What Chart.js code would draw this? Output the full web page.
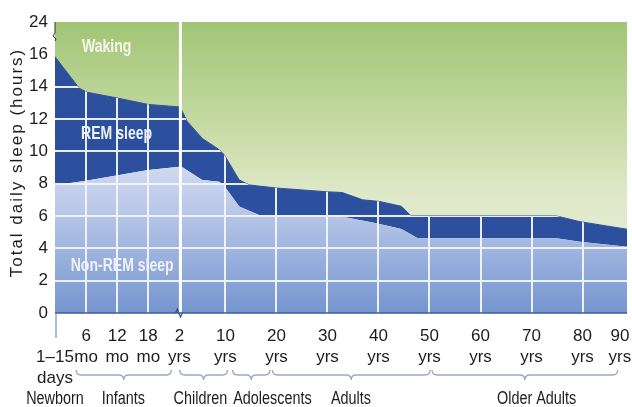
<!DOCTYPE html>
<html>
<head>
<meta charset="utf-8">
<script src="https://cdn.jsdelivr.net/npm/chart.js@4.4.1/dist/chart.umd.min.js"></script>
<style>
  html, body { margin: 0; padding: 0; background: #fff; }
  #wrap { width: 632px; height: 407px; }
</style>
</head>
<body>
<div id="wrap"><canvas id="sleepChart" width="632" height="407"></canvas></div>
<script>
// ---- data ----
const totalAges  = [0, 0.39, 0.52, 1.0, 1.5, 2.0, 2.15, 3.36, 5.97, 8.93, 9.8, 12.7, 14.7, 20, 29.8, 32.9, 36.9, 40.2, 44.5, 46.4, 74.9, 79.5, 90];
const totalSleep = [15.85, 13.9, 13.65, 13.3, 12.9, 12.75, 12.72, 11.85, 10.8, 10.1, 9.78, 8.23, 7.92, 7.73, 7.5, 7.45, 7.0, 6.9, 6.6, 6.0, 6.0, 5.65, 5.18];
const nremAges   = [0, 0.52, 1.5, 2.0, 2.26, 5.97, 8.93, 9.8, 12.7, 16.6, 20, 29.8, 33.7, 39.6, 44.5, 47.7, 74.9, 79.5, 90];
const nremSleep  = [7.9, 8.2, 8.85, 9.05, 9.08, 8.23, 8.12, 7.86, 6.58, 6.06, 5.96, 5.96, 5.9, 5.55, 5.2, 4.62, 4.62, 4.41, 4.1];

const xTickAges   = [0, 0.5, 1, 1.5, 2, 10, 20, 30, 40, 50, 60, 70, 80, 90];
const xTickLabels = [["", "1–15", "days"], ["6", "mo"], ["12", "mo"], ["18", "mo"], ["2", "yrs"],
  ["10", "yrs"], ["20", "yrs"], ["30", "yrs"], ["40", "yrs"], ["50", "yrs"], ["60", "yrs"],
  ["70", "yrs"], ["80", "yrs"], ["90", "yrs"]];
const yTickHours  = [0, 2, 4, 6, 8, 10, 12, 14, 16, 24];

const groupNames    = ["Newborn", "Infants", "Children", "Adolescents", "Adults", "Older Adults"];
const groupStart    = [null, 0.34, 2.05, 11.4, 19.2, 50.5];
const groupEnd      = [null, 1.87, 10.4, 18.7, 50.1, 87.9];
const groupLabelAge = [0, 1.1, 5.65, 19.2, 34.6, 71];

const regionNames = ["Waking", "REM sleep", "Non-REM sleep"];
const regionAges  = [0.83, 0.99, 1.08];
const regionHours = [17.7, 11.07, 2.88];

// ---- broken axes: ages are squeezed piecewise, hours above 16 are compressed ----
const axisAges  = [0, 2, 10, 80, 90];
const axisUnits = [0, 4, 5.48, 16.96, 18.39];

function ageToAxis(age) {
    for (let i = 1; i < axisAges.length; i++) {
        if (age <= axisAges[i]) {
            const t = (age - axisAges[i - 1]) / (axisAges[i] - axisAges[i - 1]);
            return axisUnits[i - 1] + t * (axisUnits[i] - axisUnits[i - 1]);
        }
    }
    return axisUnits[axisUnits.length - 1];
}

function hoursToAxis(h) {
    return h <= 16 ? h : 16 + (h - 16) / 4;
}

const nremPoints  = nremAges.map((a, i) => ({ x: ageToAxis(a), y: hoursToAxis(nremSleep[i]) }));
const totalPoints = totalAges.map((a, i) => ({ x: ageToAxis(a), y: hoursToAxis(totalSleep[i]) }));

const FONT = "'Liberation Sans', Arial, sans-serif";
const NARROW = 0.8; // the original uses a condensed face

function vGradient(chart, stops) {
    const a = chart.chartArea;
    if (!a) return stops[0][1];
    const g = chart.ctx.createLinearGradient(0, a.top, 0, a.bottom);
    stops.forEach(s => g.addColorStop(s[0], s[1]));
    return g;
}

function narrowText(ctx, text, x, y, sx) {
    ctx.save();
    ctx.translate(x, y);
    ctx.scale(sx || NARROW, 1);
    ctx.fillText(text, 0, 0);
    ctx.restore();
}

function drawBrace(ctx, x1, x2, y, h) {
    const xm = (x1 + x2) / 2;
    ctx.beginPath();
    ctx.moveTo(x1, y - h);
    ctx.quadraticCurveTo(x1, y, x1 + h, y);
    ctx.lineTo(xm - h, y);
    ctx.quadraticCurveTo(xm, y, xm, y + h);
    ctx.quadraticCurveTo(xm, y, xm + h, y);
    ctx.lineTo(x2 - h, y);
    ctx.quadraticCurveTo(x2, y, x2, y - h);
    ctx.stroke();
}

const decorPlugin = {
    id: 'decor',
    afterDatasetsDraw(chart) {
        const { ctx, chartArea: a, scales: { x, y } } = chart;
        const top = chart.getDatasetMeta(1).data;

        // white grid only inside the sleep area
        ctx.save();
        ctx.beginPath();
        ctx.moveTo(a.left, a.bottom);
        top.forEach(p => ctx.lineTo(p.x, p.y));
        ctx.lineTo(a.right, a.bottom);
        ctx.closePath();
        ctx.clip();
        ctx.strokeStyle = 'rgba(242,245,252,0.95)';
        ctx.lineWidth = 2;
        ctx.beginPath();
        xTickAges.forEach(age => {
            if (age === 0 || age === 2 || age === 90) return;
            const px = Math.round(x.getPixelForValue(ageToAxis(age)));
            ctx.moveTo(px, a.top);
            ctx.lineTo(px, a.bottom);
        });
        yTickHours.forEach(h => {
            if (h === 0 || h > 14) return;
            const py = Math.round(y.getPixelForValue(hoursToAxis(h)));
            ctx.moveTo(a.left, py);
            ctx.lineTo(a.right, py);
        });
        ctx.stroke();
        ctx.restore();

        // break line at 2 yrs
        const bx = x.getPixelForValue(ageToAxis(2)) + 1;
        ctx.save();
        ctx.strokeStyle = '#ffffff';
        ctx.lineWidth = 3;
        ctx.beginPath();
        ctx.moveTo(bx, a.top);
        ctx.lineTo(bx, a.bottom);
        ctx.stroke();

        // region labels
        ctx.font = "bold 18px " + FONT;
        ctx.textAlign = 'center';
        ctx.textBaseline = 'middle';
        regionNames.forEach((name, i) => {
            ctx.fillStyle = i === 0 ? '#f4f8ec' : '#eef2fb';
            narrowText(ctx, name, x.getPixelForValue(ageToAxis(regionAges[i])), y.getPixelForValue(hoursToAxis(regionHours[i])), 0.78);
        });
        ctx.restore();
    },
    afterDraw(chart) {
        const { ctx, chartArea: a, scales: { x } } = chart;
        ctx.save();

        // bottom edge
        ctx.strokeStyle = '#3d5c9e';
        ctx.lineWidth = 1.5;
        ctx.beginPath();
        ctx.moveTo(a.left, a.bottom);
        ctx.lineTo(a.right, a.bottom);
        ctx.stroke();

        // x break mark
        const bx = x.getPixelForValue(ageToAxis(2));
        ctx.strokeStyle = '#33507f';
        ctx.lineWidth = 1.2;
        ctx.beginPath();
        ctx.moveTo(bx - 4, a.bottom);
        ctx.lineTo(bx - 2, a.bottom - 4);
        ctx.lineTo(bx + 1, a.bottom + 4);
        ctx.lineTo(bx + 3, a.bottom);
        ctx.stroke();

        // y break mark and short axis stub
        ctx.strokeStyle = '#333';
        ctx.lineWidth = 1;
        ctx.beginPath();
        ctx.moveTo(a.left, a.top);
        ctx.lineTo(a.left, a.top + 11);
        ctx.lineTo(a.left - 2, a.top + 14);
        ctx.lineTo(a.left + 1, a.top + 17);
        ctx.lineTo(a.left, a.top + 19);
        ctx.stroke();

        // newborn tick
        const nx = x.getPixelForValue(ageToAxis(0)) + 1;
        ctx.strokeStyle = '#a9bde2';
        ctx.lineWidth = 2;
        ctx.beginPath();
        ctx.moveTo(nx, a.bottom + 1);
        ctx.lineTo(nx, a.bottom + 25);
        ctx.stroke();

        // braces and group names
        ctx.strokeStyle = '#9aa8c6';
        ctx.lineWidth = 1.4;
        groupNames.forEach((name, i) => {
            if (groupStart[i] === null) return;
            drawBrace(ctx, x.getPixelForValue(ageToAxis(groupStart[i])), x.getPixelForValue(ageToAxis(groupEnd[i])), a.bottom + 62, 5);
        });
        ctx.fillStyle = '#1c1c1c';
        ctx.font = "18px " + FONT;
        ctx.textAlign = 'center';
        ctx.textBaseline = 'middle';
        groupNames.forEach((name, i) => {
            narrowText(ctx, name, x.getPixelForValue(ageToAxis(groupLabelAge[i])), a.bottom + 86);
        });

        // y title
        ctx.translate(17, (a.top + a.bottom) / 2 - 5);
        ctx.rotate(-Math.PI / 2);
        ctx.font = "17px " + FONT;
        ctx.letterSpacing = '2px';
        ctx.fillStyle = '#1c1c1c';
        ctx.fillText('Total daily sleep (hours)', 0, 0);
        ctx.restore();
    }
};

const ctx = document.getElementById('sleepChart').getContext('2d');
new Chart(ctx, {
    type: 'line',
    data: {
        datasets: [{
            label: 'Non-REM sleep',
            data: nremPoints,
            fill: 'origin',
            borderWidth: 0,
            pointRadius: 0,
            backgroundColor: c => vGradient(c.chart, [[0, '#e2e8f6'], [0.5, '#cfd8ef'], [0.65, '#b9c7e8'], [1, '#7595cf']])
        }, {
            label: 'REM sleep',
            data: totalPoints,
            fill: '-1',
            borderWidth: 1,
            borderColor: '#2c4f9e',
            pointRadius: 0,
            backgroundColor: '#2c4f9e'
        }, {
            label: 'Waking',
            data: totalPoints,
            fill: 'end',
            borderWidth: 0,
            pointRadius: 0,
            backgroundColor: c => vGradient(c.chart, [[0, '#a1c575'], [0.35, '#c6daa3'], [0.6, '#dfe9c9'], [1, '#e7eed8']])
        }]
    },
    options: {
        responsive: false,
        animation: false,
        layout: { padding: { top: 22, right: 5, left: 0, bottom: 0 } },
        plugins: { legend: { display: false }, tooltip: { enabled: false } },
        scales: {
            x: {
                type: 'linear',
                min: 0,
                max: ageToAxis(90),
                grid: { display: false, drawTicks: false },
                border: { display: false },
                afterBuildTicks: s => { s.ticks = xTickAges.map(a => ({ value: ageToAxis(a) })); },
                afterFit: s => { s.height = 94; s.paddingLeft = 0; s.paddingRight = 0; },
                ticks: {
                    autoSkip: false,
                    maxRotation: 0,
                    padding: 13,
                    color: '#1c1c1c',
                    font: { family: FONT, size: 17, lineHeight: 1.22 },
                    callback: (v, i) => i === xTickLabels.length - 1
                        ? xTickLabels[i].map(t => t + '\u00a0\u00a0\u00a0')
                        : xTickLabels[i]
                }
            },
            y: {
                type: 'linear',
                min: 0,
                max: hoursToAxis(24),
                grid: { display: false, drawTicks: false },
                border: { display: false },
                afterBuildTicks: s => { s.ticks = yTickHours.map(h => ({ value: hoursToAxis(h) })); },
                afterFit: s => { s.width = 55; s.paddingTop = 0; s.paddingBottom = 0; },
                ticks: {
                    padding: 7,
                    color: '#1c1c1c',
                    font: { family: FONT, size: 17 },
                    callback: (v, i) => String(yTickHours[i])
                }
            }
        }
    },
    plugins: [decorPlugin]
});
</script>
</body>
</html>
